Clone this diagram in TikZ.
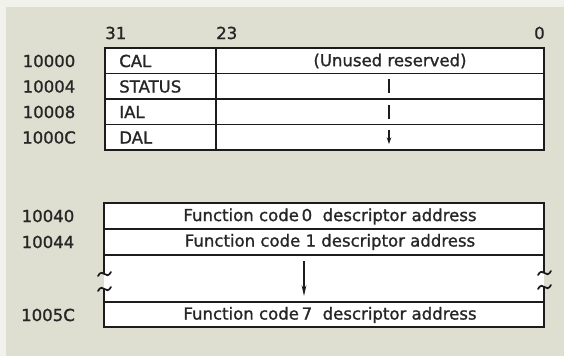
\documentclass[tikz,border=0pt]{standalone}
\usepackage{fontspec}
\setmainfont{DejaVu Sans}[FakeBold=1.2]
\usetikzlibrary{arrows.meta}
\definecolor{bg}{RGB}{222,222,209}
\definecolor{ink}{RGB}{28,28,28}
\definecolor{txt}{RGB}{38,38,38}
\begin{document}
\begin{tikzpicture}[x=0.75pt,y=-0.75pt,
  txtst/.style={inner sep=0pt,text=txt,font=\fontsize{12.4}{14}\selectfont},
  addr/.style={txtst,anchor=center},
  fld/.style={txtst,anchor=west},
  thin/.style={draw=ink,line width=0.9pt},
  thick/.style={draw=ink,line width=1.9pt},
  brk/.style={draw=ink,line width=1.3pt,line cap=round},
  arr/.style={draw=ink,line width=0.9pt,-{Stealth[length=5pt,width=3.5pt]}}]
\useasboundingbox (0,0) rectangle (564,356);
% background
\fill[bg] (0,0) rectangle (564,356);
\fill[white!60!bg] (0,0) rectangle (564,7);
\fill[white!60!bg] (0,0) rectangle (6,356);
% ---------------- top table ----------------
\coordinate (tNW) at (105,48);
\coordinate (tSE) at (544,150);
\fill[white] (tNW) rectangle (tSE);
\foreach \y in {73.5,99,124.5} \draw[thin] (105,\y) -- (544,\y);
\draw[thin] (216,48) -- (216,150);
\draw[thick] (tNW) rectangle (tSE);
% bit numbers
\node[txtst,anchor=west] (b31) at (105,33) {31};
\node[txtst,anchor=west] (b23) at (216,33) {23};
\node[txtst,anchor=east] (b0) at (545,33) {0};
% addresses
\node[addr] (a0) at (49,61) {10000};
\node[addr] (a4) at (49,86.5) {10004};
\node[addr] (a8) at (49,112) {10008};
\node[addr] (aC) at (49,137.5) {1000C};
% fields
\node[fld] (cal) at (119,61) {CAL};
\node[fld] (status) at (119,86.5) {STATUS};
\node[fld] (ial) at (119,112) {IAL};
\node[fld] (dal) at (119,137.5) {DAL};
\node[addr] (unused) at (390,61) {(Unused reserved)};
% continuation marks
\coordinate (u1a) at (389,79); \coordinate (u1b) at (389,93);
\coordinate (u2a) at (389,105); \coordinate (u2b) at (389,119.5);
\coordinate (u3a) at (389,130); \coordinate (u3b) at (389,144);
\draw[thin] (u1a) -- (u1b);
\draw[thin] (u2a) -- (u2b);
\draw[arr] (u3a) -- (u3b);
% ---------------- bottom table ----------------
\fill[white] (104,203) rectangle (544,327);
\foreach \y in {229,255,302} \draw[thin] (104,\y) -- (544,\y);
\draw[thick] (104,273) -- (104,203) -- (544,203) -- (544,272);
\draw[thick] (104,289) -- (104,327) -- (544,327) -- (544,286);
% break marks
\draw[brk] (98,276) .. controls (100,272) and (103,272) .. (104.5,274) .. controls (106,276) and (109,276) .. (111,272);
\draw[brk] (98,291) .. controls (100,287) and (103,287) .. (104.5,289) .. controls (106,291) and (109,291) .. (111,287);
\draw[brk] (538,275) .. controls (540,271) and (543,271) .. (544.5,273) .. controls (546,275) and (549,275) .. (551,271);
\draw[brk] (538,289) .. controls (540,285) and (543,285) .. (544.5,287) .. controls (546,289) and (549,289) .. (551,285);
% addresses
\node[addr] (a40) at (48,216) {10040};
\node[addr] (a44) at (48,242) {10044};
\node[addr] (a5C) at (48,315) {1005C};
% entries
\node[addr] (fc0) at (330,216.5) {Function code\,0\ \ descriptor address};
\node[addr] (fc1) at (330,242) {Function code 1 descriptor address};
\node[addr] (fc7) at (330,315) {Function code\,7\ \ descriptor address};
\coordinate (d1) at (304,261);
\coordinate (d2) at (304,296);
\draw[draw=ink,line width=0.9pt,-{Stealth[length=8pt,width=3.5pt]}] (d1) -- (d2);
\end{tikzpicture}
\end{document}
